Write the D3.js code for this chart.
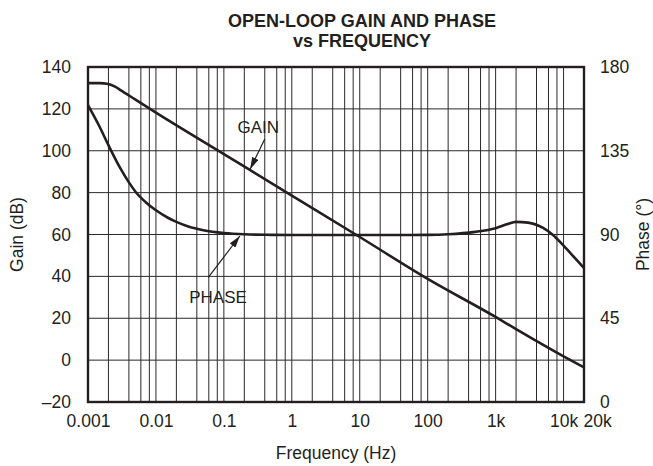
<!DOCTYPE html>
<html>
<head>
<meta charset="utf-8">
<script src="https://cdn.jsdelivr.net/npm/d3@7"></script>
<style>
  body { margin: 0; background: #fff; }
  svg { display: block; font-family: "Liberation Sans", Arial, Helvetica, sans-serif; }
</style>
</head>
<body>
<svg width="653" height="466"></svg>
<script>
// Gain curve (Hz, dB)
let gainFreq = [0.001, 0.0015, 0.0019, 0.0025, 0.003, 0.005, 0.01, 0.1, 1, 10, 100, 1000, 2000, 10000, 20000];
let gainDb   = [132.3, 132.3, 132.0, 130.6, 129.0, 124.4, 118.2, 98.4, 78.6, 58.8, 38.8, 20.6, 14.8, 1.8, -3.5];

// Phase curve (Hz, degrees)
let phaseFreq = [0.001, 0.0015, 0.002, 0.003, 0.004, 0.005, 0.007, 0.01, 0.015, 0.02, 0.03, 0.05, 0.1, 0.2, 0.5, 1, 10, 100, 200, 500, 1000, 1500, 2000, 3000, 5000, 7000, 10000, 15000, 20000];
let phaseDeg  = [159.5, 147.5, 138, 125.5, 118, 113, 107.5, 103, 99, 96.8, 94.3, 92.3, 90.8, 90.1, 89.8, 89.7, 89.7, 89.8, 90.1, 91.4, 93.4, 95.6, 96.8, 96.4, 93.5, 89.7, 84, 77, 72];

// Axes ticks
let gainTicks = [-20, 0, 20, 40, 60, 80, 100, 120, 140];
let phaseTicks = [0, 45, 90, 135, 180];
let freqTicks = [0.001, 0.01, 0.1, 1, 10, 100, 1000, 10000, 20000];
let freqLabels = ['0.001', '0.01', '0.1', '1', '10', '100', '1k', '10k', '20k'];
let minorSteps = [2, 4, 6, 8];

let svg = d3.select('svg');
let margin = { top: 67, right: 69, bottom: 64, left: 88 };
let width = +svg.attr('width');
let height = +svg.attr('height');
let ink = '#231f20';

let x = d3.scaleLog()
    .domain([0.001, 20000])
    .range([margin.left, width - margin.right]);
let y = d3.scaleLinear()
    .domain([-20, 140])
    .range([height - margin.bottom, margin.top]);
let yPhase = d3.scaleLinear()
    .domain([0, 180])
    .range([height - margin.bottom, margin.top]);

// Vertical grid: decades plus 2,4,6,8 in each decade
let gridX = [];
d3.range(-3, 4).forEach(p => {
    let dec = Math.pow(10, p);
    if (p > -3) gridX.push(dec);
    minorSteps.forEach(m => gridX.push(m * dec));
});
gridX.push(10000);

svg.append('g')
    .selectAll('line')
    .data(gridX)
    .enter().append('line')
    .attr('x1', d => x(d))
    .attr('x2', d => x(d))
    .attr('y1', y(-20))
    .attr('y2', y(140))
    .attr('stroke', '#2a2a2a')
    .attr('stroke-width', 1);

svg.append('g')
    .selectAll('line')
    .data(gainTicks.slice(1, -1))
    .enter().append('line')
    .attr('x1', x(0.001))
    .attr('x2', x(20000))
    .attr('y1', d => y(d))
    .attr('y2', d => y(d))
    .attr('stroke', '#2a2a2a')
    .attr('stroke-width', 1);

// Curves
let gainData = gainFreq.map((f, i) => [f, gainDb[i]]);
let phaseData = phaseFreq.map((f, i) => [f, phaseDeg[i]]);

svg.append('path')
    .datum(gainData)
    .attr('fill', 'none')
    .attr('stroke', ink)
    .attr('stroke-width', 2.6)
    .attr('d', d3.line().x(d => x(d[0])).y(d => y(d[1])).curve(d3.curveMonotoneX));

svg.append('path')
    .datum(phaseData)
    .attr('fill', 'none')
    .attr('stroke', ink)
    .attr('stroke-width', 2.6)
    .attr('d', d3.line().x(d => x(d[0])).y(d => yPhase(d[1])).curve(d3.curveMonotoneX));

// Frame
svg.append('rect')
    .attr('x', x(0.001))
    .attr('y', y(140))
    .attr('width', x(20000) - x(0.001))
    .attr('height', y(-20) - y(140))
    .attr('fill', 'none')
    .attr('stroke', ink)
    .attr('stroke-width', 2.4);

// Left axis
let leftAxis = svg.append('g')
    .attr('transform', 'translate(' + (margin.left - 6) + ',0)')
    .call(d3.axisLeft(y).tickValues(gainTicks).tickSize(0).tickPadding(11)
        .tickFormat(d => d < 0 ? '\u2013' + Math.abs(d) : d));
leftAxis.select('.domain').remove();
leftAxis.selectAll('text').attr('font-size', '17.5px').attr('fill', ink).attr('font-family', null);

// Right axis
let rightAxis = svg.append('g')
    .attr('transform', 'translate(' + (width - margin.right + 5) + ',0)')
    .call(d3.axisRight(yPhase).tickValues(phaseTicks).tickSize(0).tickPadding(11));
rightAxis.select('.domain').remove();
rightAxis.selectAll('text').attr('font-size', '17.5px').attr('fill', ink).attr('font-family', null);

// Bottom axis
let bottomAxis = svg.append('g')
    .attr('transform', 'translate(0,' + (height - margin.bottom) + ')')
    .call(d3.axisBottom(x).tickValues(freqTicks).tickSize(0).tickPadding(13)
        .tickFormat((d, i) => freqLabels[i]));
bottomAxis.select('.domain').remove();
bottomAxis.selectAll('text').attr('font-size', '17.5px').attr('fill', ink).attr('font-family', null);
// 20k label sits right of its line so it does not collide with 10k
bottomAxis.selectAll('.tick').filter(d => d === 20000).select('text')
    .attr('text-anchor', 'start').attr('x', -1);

// Axis titles
svg.append('text')
    .attr('text-anchor', 'middle')
    .attr('transform', 'translate(' + 23 + ',' + ((y(-20) + y(140)) / 2) + ')rotate(-90)')
    .attr('font-size', '17.5px')
    .attr('fill', ink)
    .text('Gain (dB)');

svg.append('text')
    .attr('text-anchor', 'middle')
    .attr('transform', 'translate(' + 649 + ',' + ((y(-20) + y(140)) / 2) + ')rotate(-90)')
    .attr('font-size', '17.5px')
    .attr('fill', ink)
    .text('Phase (\u00b0)');

svg.append('text')
    .attr('text-anchor', 'middle')
    .attr('x', (x(0.001) + x(20000)) / 2)
    .attr('y', 459)
    .attr('font-size', '17.5px')
    .attr('fill', ink)
    .text('Frequency (Hz)');

// Title
svg.append('text')
    .attr('text-anchor', 'middle')
    .attr('x', 362)
    .attr('y', 27)
    .attr('font-size', '18px')
    .attr('font-weight', 'bold')
    .attr('fill', ink)
    .text('OPEN-LOOP GAIN AND PHASE');

svg.append('text')
    .attr('text-anchor', 'middle')
    .attr('x', 362)
    .attr('y', 47)
    .attr('font-size', '18px')
    .attr('font-weight', 'bold')
    .attr('fill', ink)
    .text('vs FREQUENCY');

// Curve labels with arrows (positions in data units)
let defs = svg.append('defs');
defs.append('marker')
    .attr('id', 'arrow')
    .attr('viewBox', '0 0 12 7')
    .attr('refX', 12)
    .attr('refY', 3.5)
    .attr('markerWidth', 12)
    .attr('markerHeight', 7)
    .attr('markerUnits', 'userSpaceOnUse')
    .attr('orient', 'auto')
    .append('path')
    .attr('d', 'M0,0L12,3.5L0,7Z')
    .attr('fill', ink);

let gainLabel = { f: 0.32, v: 108.6, text: 'GAIN', from: [0.40, 105.6], to: [0.243, 91.2] };
let phaseLabel = { f: 0.082, v: 27.5, text: 'PHASE', from: [0.059, 39.5], to: [0.172, 89.2] };

svg.append('text')
    .attr('text-anchor', 'middle')
    .attr('x', x(gainLabel.f))
    .attr('y', y(gainLabel.v))
    .attr('font-size', '17px')
    .attr('fill', ink)
    .text(gainLabel.text);

svg.append('line')
    .attr('x1', x(gainLabel.from[0]))
    .attr('y1', y(gainLabel.from[1]))
    .attr('x2', x(gainLabel.to[0]))
    .attr('y2', y(gainLabel.to[1]))
    .attr('stroke', ink)
    .attr('stroke-width', 1.2)
    .attr('marker-end', 'url(#arrow)');

svg.append('text')
    .attr('text-anchor', 'middle')
    .attr('x', x(phaseLabel.f))
    .attr('y', y(phaseLabel.v))
    .attr('font-size', '17px')
    .attr('fill', ink)
    .text(phaseLabel.text);

svg.append('line')
    .attr('x1', x(phaseLabel.from[0]))
    .attr('y1', y(phaseLabel.from[1]))
    .attr('x2', x(phaseLabel.to[0]))
    .attr('y2', yPhase(phaseLabel.to[1]))
    .attr('stroke', ink)
    .attr('stroke-width', 1.2)
    .attr('marker-end', 'url(#arrow)');
</script>
</body>
</html>
